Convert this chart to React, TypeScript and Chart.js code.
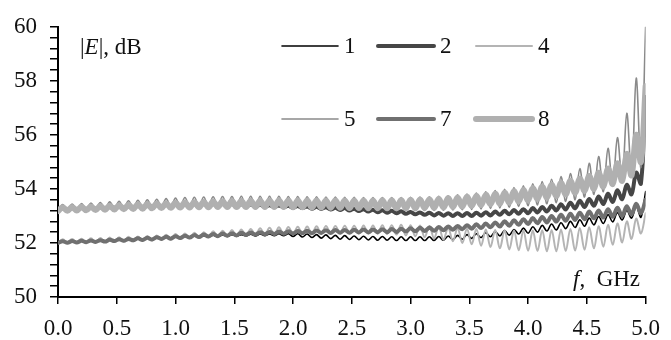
import React, { useEffect, useRef } from 'react';
import { Chart, registerables } from 'chart.js';

Chart.register(...registerables);

// Sampling grid step (GHz)
const STEP = 0.04;

// Series 1 (black, thin)
const S1 = [
  52.00, 52.05, 52.01, 52.06, 52.02, 52.07, 52.03, 52.08, 52.04, 52.09,
  52.05, 52.11, 52.07, 52.13, 52.09, 52.15, 52.10, 52.16, 52.12, 52.18,
  52.14, 52.20, 52.15, 52.22, 52.17, 52.23, 52.18, 52.25, 52.19, 52.26,
  52.21, 52.27, 52.22, 52.29, 52.23, 52.30, 52.24, 52.31, 52.25, 52.31,
  52.26, 52.32, 52.26, 52.33, 52.27, 52.33, 52.27, 52.34, 52.27, 52.34,
  52.24, 52.34, 52.22, 52.33, 52.20, 52.31, 52.18, 52.30, 52.16, 52.28,
  52.14, 52.27, 52.13, 52.26, 52.12, 52.25, 52.11, 52.24, 52.10, 52.24,
  52.10, 52.23, 52.09, 52.23, 52.09, 52.23, 52.09, 52.23, 52.09, 52.23,
  52.09, 52.24, 52.10, 52.26, 52.12, 52.28, 52.14, 52.31, 52.17, 52.34,
  52.20, 52.38, 52.23, 52.42, 52.26, 52.46, 52.29, 52.50, 52.33, 52.55,
  52.36, 52.60, 52.40, 52.65, 52.44, 52.70, 52.48, 52.75, 52.53, 52.80,
  52.57, 52.86, 52.62, 52.92, 52.67, 52.98, 52.72, 53.05, 52.78, 53.12,
  52.85, 53.20, 52.92, 53.35, 52.95, 53.90,
];

// Series 2 (dark gray, thick)
const S2 = [
  53.22, 53.28, 53.23, 53.29, 53.24, 53.30, 53.25, 53.31, 53.26, 53.32,
  53.29, 53.35, 53.30, 53.36, 53.31, 53.37, 53.32, 53.38, 53.33, 53.39,
  53.35, 53.41, 53.36, 53.42, 53.36, 53.43, 53.37, 53.43, 53.37, 53.44,
  53.37, 53.44, 53.37, 53.44, 53.37, 53.44, 53.37, 53.44, 53.36, 53.43,
  53.36, 53.42, 53.35, 53.41, 53.34, 53.40, 53.33, 53.39, 53.32, 53.38,
  53.30, 53.37, 53.29, 53.35, 53.27, 53.34, 53.26, 53.32, 53.24, 53.30,
  53.22, 53.29, 53.20, 53.27, 53.18, 53.25, 53.16, 53.23, 53.14, 53.21,
  53.12, 53.19, 53.10, 53.17, 53.08, 53.15, 53.06, 53.13, 53.04, 53.12,
  53.02, 53.11, 53.01, 53.10, 53.00, 53.10, 53.00, 53.11, 53.00, 53.12,
  53.01, 53.14, 53.02, 53.16, 53.04, 53.19, 53.06, 53.22, 53.08, 53.25,
  53.10, 53.29, 53.13, 53.33, 53.16, 53.38, 53.20, 53.43, 53.24, 53.49,
  53.28, 53.56, 53.33, 53.63, 53.38, 53.72, 53.44, 53.82, 53.52, 53.95,
  53.62, 54.15, 53.80, 54.60, 54.20, 57.40,
];

// Series 4 (light gray, thin)
const S4 = [
  52.00, 52.14, 52.01, 52.15, 52.01, 52.16, 52.02, 52.17, 52.02, 52.18,
  52.03, 52.20, 52.04, 52.21, 52.05, 52.23, 52.06, 52.24, 52.08, 52.26,
  52.09, 52.28, 52.11, 52.30, 52.13, 52.33, 52.15, 52.35, 52.17, 52.38,
  52.19, 52.40, 52.21, 52.43, 52.23, 52.45, 52.25, 52.48, 52.26, 52.50,
  52.28, 52.52, 52.29, 52.54, 52.30, 52.56, 52.31, 52.58, 52.32, 52.59,
  52.33, 52.60, 52.33, 52.61, 52.34, 52.62, 52.34, 52.63, 52.35, 52.63,
  52.35, 52.64, 52.35, 52.64, 52.35, 52.65, 52.35, 52.65, 52.34, 52.66,
  52.33, 52.66, 52.31, 52.67, 52.28, 52.66, 52.25, 52.65, 52.21, 52.63,
  52.17, 52.60, 52.12, 52.57, 52.06, 52.55, 52.00, 52.53, 51.95, 52.52,
  51.90, 52.50, 51.85, 52.48, 51.80, 52.47, 51.76, 52.46, 51.73, 52.46,
  51.71, 52.46, 51.70, 52.47, 51.69, 52.48, 51.69, 52.50, 51.70, 52.52,
  51.72, 52.55, 51.75, 52.58, 51.80, 52.62, 51.86, 52.67, 51.93, 52.72,
  52.02, 52.80, 52.15, 52.90, 52.35, 53.10,
];

// Series 5 (mid gray, thin)
const S5 = [
  53.20, 53.42, 53.22, 53.44, 53.23, 53.46, 53.25, 53.48, 53.26, 53.50,
  53.27, 53.52, 53.28, 53.54, 53.29, 53.56, 53.30, 53.58, 53.31, 53.60,
  53.32, 53.62, 53.33, 53.64, 53.34, 53.66, 53.35, 53.68, 53.35, 53.69,
  53.36, 53.70, 53.36, 53.71, 53.36, 53.72, 53.36, 53.72, 53.36, 53.73,
  53.35, 53.73, 53.35, 53.73, 53.34, 53.73, 53.34, 53.73, 53.33, 53.72,
  53.32, 53.72, 53.31, 53.71, 53.30, 53.71, 53.29, 53.70, 53.28, 53.70,
  53.27, 53.69, 53.26, 53.69, 53.25, 53.68, 53.24, 53.68, 53.23, 53.68,
  53.22, 53.68, 53.21, 53.68, 53.20, 53.69, 53.20, 53.70, 53.20, 53.71,
  53.20, 53.73, 53.21, 53.75, 53.22, 53.78, 53.23, 53.81, 53.24, 53.85,
  53.26, 53.89, 53.28, 53.94, 53.30, 53.99, 53.32, 54.05, 53.35, 54.12,
  53.38, 54.19, 53.41, 54.27, 53.45, 54.36, 53.49, 54.46, 53.54, 54.57,
  53.60, 54.75, 53.70, 54.95, 53.80, 55.20, 53.90, 55.50, 54.10, 55.90,
  54.30, 56.80, 54.50, 58.10, 54.80, 60.00,
];

// Series 7 (mid gray, thick)
const S7 = [
  52.00, 52.06, 52.01, 52.07, 52.02, 52.08, 52.03, 52.09, 52.04, 52.10,
  52.05, 52.12, 52.07, 52.14, 52.08, 52.15, 52.10, 52.17, 52.11, 52.19,
  52.13, 52.21, 52.15, 52.23, 52.16, 52.25, 52.18, 52.27, 52.20, 52.29,
  52.22, 52.31, 52.24, 52.33, 52.25, 52.35, 52.27, 52.36, 52.28, 52.38,
  52.30, 52.39, 52.31, 52.40, 52.32, 52.41, 52.33, 52.42, 52.34, 52.43,
  52.35, 52.44, 52.36, 52.45, 52.36, 52.46, 52.37, 52.47, 52.37, 52.48,
  52.38, 52.48, 52.38, 52.49, 52.39, 52.50, 52.39, 52.50, 52.40, 52.51,
  52.40, 52.52, 52.41, 52.53, 52.42, 52.54, 52.43, 52.56, 52.44, 52.57,
  52.45, 52.59, 52.47, 52.61, 52.49, 52.63, 52.51, 52.66, 52.53, 52.69,
  52.55, 52.72, 52.58, 52.76, 52.61, 52.80, 52.64, 52.84, 52.67, 52.88,
  52.70, 52.92, 52.73, 52.96, 52.76, 53.00, 52.79, 53.04, 52.82, 53.08,
  52.85, 53.12, 52.88, 53.16, 52.91, 53.20, 52.94, 53.25, 52.97, 53.30,
  53.00, 53.36, 53.05, 53.45, 53.10, 53.60,
];

// Series 8 (light gray, very thick)
const S8 = [
  53.18, 53.32, 53.19, 53.33, 53.20, 53.34, 53.21, 53.35, 53.22, 53.37,
  53.23, 53.38, 53.24, 53.40, 53.25, 53.41, 53.26, 53.43, 53.27, 53.44,
  53.28, 53.46, 53.29, 53.47, 53.30, 53.49, 53.31, 53.50, 53.31, 53.51,
  53.32, 53.52, 53.32, 53.53, 53.33, 53.54, 53.33, 53.55, 53.33, 53.55,
  53.33, 53.56, 53.33, 53.56, 53.33, 53.57, 53.33, 53.57, 53.33, 53.57,
  53.32, 53.57, 53.32, 53.57, 53.31, 53.57, 53.31, 53.57, 53.30, 53.57,
  53.30, 53.57, 53.29, 53.57, 53.29, 53.57, 53.28, 53.57, 53.28, 53.58,
  53.28, 53.58, 53.28, 53.59, 53.28, 53.60, 53.28, 53.61, 53.29, 53.62,
  53.30, 53.64, 53.31, 53.66, 53.33, 53.68, 53.35, 53.71, 53.37, 53.74,
  53.40, 53.78, 53.43, 53.82, 53.46, 53.86, 53.50, 53.91, 53.54, 53.96,
  53.58, 54.02, 53.63, 54.08, 53.68, 54.15, 53.74, 54.22, 53.80, 54.30,
  53.86, 54.38, 53.93, 54.48, 54.00, 54.60, 54.08, 54.75, 54.18, 54.95,
  54.30, 55.30, 54.50, 56.00, 55.00, 57.80,
];

const FREQ = S1.map((_, i) => Math.round(i * STEP * 100) / 100);

const LEGEND_LABELS = ['1', '2', '4', '5', '7', '8'];
const X_TICKS = [0, 0.5, 1, 1.5, 2, 2.5, 3, 3.5, 4, 4.5, 5];

const STYLES = [
  { color: '#000000', width: 1.6 },
  { color: '#464646', width: 4 },
  { color: '#b4b4b4', width: 2 },
  { color: '#8a8a8a', width: 1.6 },
  { color: '#707070', width: 4 },
  { color: '#b0b0b0', width: 6 },
];

const SERIES = [S1, S2, S4, S5, S7, S8];

const FONT = '"Liberation Serif", "Times New Roman", serif';
const FONT_SIZE = 23;

const overlayPlugin = {
  id: 'overlay',
  afterDraw(chart: any) {
    const ctx = chart.ctx as CanvasRenderingContext2D;
    ctx.save();
    // legend
    const colX = [282, 378, 476];
    const rowY = [46, 119];
    const lineLen = 56;
    ctx.textBaseline = 'middle';
    ctx.textAlign = 'left';
    ctx.font = `${FONT_SIZE}px ${FONT}`;
    ctx.fillStyle = '#111';
    LEGEND_LABELS.forEach((lab, i) => {
      const r = Math.floor(i / 3);
      const c = i % 3;
      const x = colX[c];
      const y = rowY[r];
      ctx.strokeStyle = STYLES[i].color;
      ctx.lineWidth = STYLES[i].width;
      ctx.lineCap = 'round';
      ctx.beginPath();
      ctx.moveTo(x, y);
      ctx.lineTo(x + lineLen, y);
      ctx.stroke();
      ctx.fillText(lab, x + lineLen + 6, y + 1);
    });
    // y-axis title: |E|, dB
    ctx.textBaseline = 'alphabetic';
    let x = 80;
    const yb = 54;
    const parts: [string, boolean][] = [['|', false], ['E', true], ['|, dB', false]];
    parts.forEach(([t, it]) => {
      ctx.font = `${it ? 'italic ' : ''}${FONT_SIZE}px ${FONT}`;
      ctx.fillText(t, x, yb);
      x += ctx.measureText(t).width;
    });
    // x-axis title: f, GHz
    x = 573;
    const xb = 286;
    const parts2: [string, boolean][] = [['f', true], [',  GHz', false]];
    parts2.forEach(([t, it]) => {
      ctx.font = `${it ? 'italic ' : ''}${FONT_SIZE}px ${FONT}`;
      ctx.fillText(t, x, xb);
      x += ctx.measureText(t).width;
    });
    ctx.restore();
  },
};

export default function App() {
  const ref = useRef<HTMLCanvasElement>(null);
  useEffect(() => {
    if (!ref.current) return;
    const datasets = SERIES.map((s, i) => ({
      label: LEGEND_LABELS[i],
      data: s.map((v, j) => ({ x: FREQ[j], y: v })),
      borderColor: STYLES[i].color,
      borderWidth: STYLES[i].width,
      pointRadius: 0,
      tension: 0.35,
      borderJoinStyle: 'round' as const,
      borderCapStyle: 'round' as const,
      fill: false,
      order: 10 - i,
    }));
    const tickFont = { family: FONT, size: FONT_SIZE };
    const chart = new Chart(ref.current, {
      type: 'line',
      data: { datasets },
      options: {
        animation: false,
        responsive: false,
        maintainAspectRatio: false,
        layout: { padding: { top: 24, right: 22, left: 0, bottom: 0 } },
        plugins: { legend: { display: false }, tooltip: { enabled: false } },
        scales: {
          x: {
            type: 'linear',
            min: 0,
            max: 5,
            afterBuildTicks: (s: any) => {
              s.ticks = X_TICKS.map((v) => ({ value: v }));
            },
            ticks: {
              callback: (v: any) => Number(v).toFixed(1),
              font: tickFont,
              color: '#111',
              padding: 11,
              maxRotation: 0,
              autoSkip: false,
            },
            grid: { drawOnChartArea: false, drawTicks: true, tickLength: 7, color: '#000', lineWidth: 1.5 },
            border: { color: '#000', width: 2 },
            afterFit: (s: any) => {
              s.height = 43;
            },
          },
          y: {
            min: 50,
            max: 60,
            ticks: {
              stepSize: 0.4,
              autoSkip: false,
              font: tickFont,
              color: '#111',
              padding: 13,
              callback: (v: any) => {
                const r = Math.round(Number(v) * 10) / 10;
                return Math.abs(r - Math.round(r)) < 1e-6 && Math.round(r) % 2 === 0 ? String(Math.round(r)) : '';
              },
            },
            grid: { drawOnChartArea: false, drawTicks: true, tickLength: 8, color: '#000', lineWidth: 1.5 },
            border: { color: '#000', width: 2 },
            afterFit: (s: any) => {
              s.width = 58;
            },
          },
        },
      },
      plugins: [overlayPlugin],
    });
    return () => chart.destroy();
  }, []);
  return (
    <div style={{ position: 'absolute', left: 0, top: 0, width: 671, height: 340, background: '#fff' }}>
      <canvas ref={ref} width={671} height={340} style={{ width: 671, height: 340 }} />
    </div>
  );
}
